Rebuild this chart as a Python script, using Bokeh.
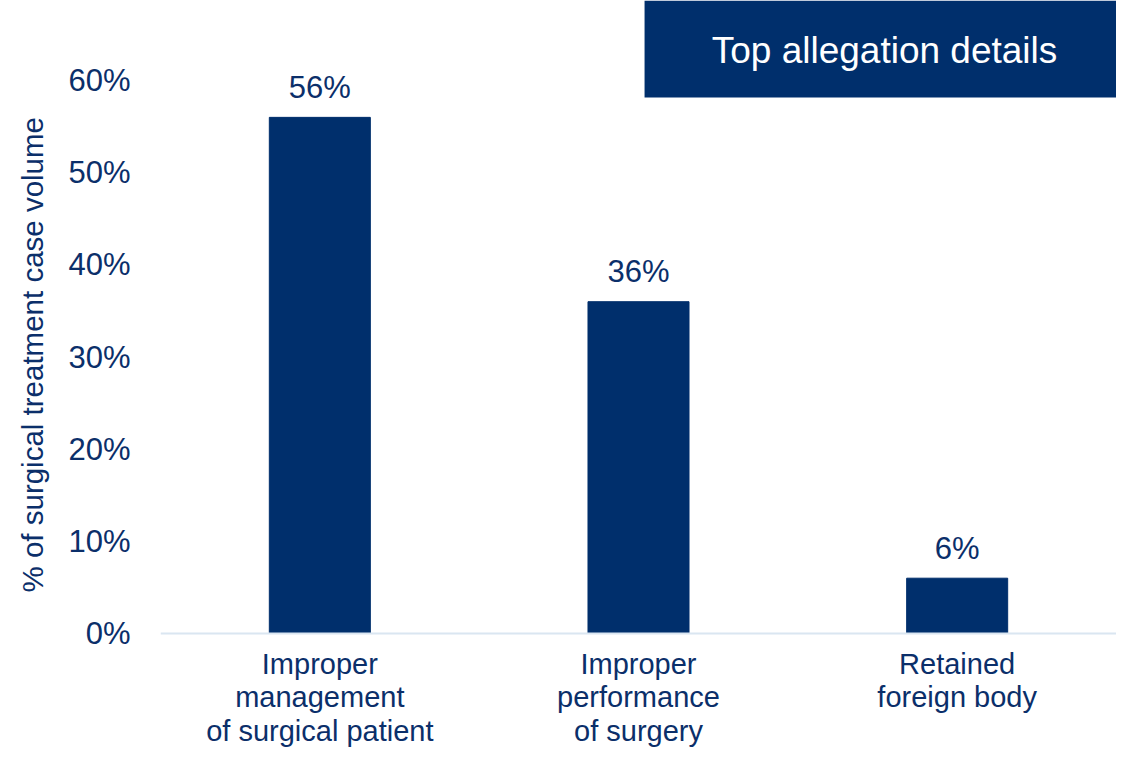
from bokeh.plotting import figure
from bokeh.models import (FactorRange, Range1d, FixedTicker, PrintfTickFormatter,
                          ColumnDataSource, Span, Title)
from bokeh.core.properties import value
from bokeh.embed import file_html
from bokeh.resources import INLINE

categories = ["Improper\nmanagement\nof surgical patient",
              "Improper\nperformance\nof surgery",
              "Retained\nforeign body"]
values = [56, 36, 6]
labels = ["56%", "36%", "6%"]
y_ticks = [0, 10, 20, 30, 40, 50, 60]
title_text = "Top allegation details"
y_label = "% of surgical treatment case volume"

NAVY = "#002F6C"
TEXT = "#0B2F6A"
FONT = "Liberation Sans"

W, H = 1116, 748
p = figure(width=W, height=H, output_backend="svg", toolbar_location=None,
           x_range=FactorRange(*categories, range_padding=0, factor_padding=0),
           y_range=Range1d(-12.477, 68.68))
p.min_border_left = 160
p.min_border_right = 0
p.min_border_top = 0
p.min_border_bottom = 0
p.outline_line_color = None
p.grid.grid_line_color = None
p.background_fill_color = "white"
p.border_fill_color = "white"
p.xaxis.visible = False

src = ColumnDataSource(dict(cat=categories, val=values, lab=labels, zero=[0] * len(values)))

# baseline axis line
p.add_layout(Span(location=0, dimension="width", line_color="#DAE6F1", line_width=2))

p.vbar(x="cat", top="val", width=0.317, source=src, fill_color=NAVY, line_color=NAVY)
p.text(x="cat", y="val", text="lab", source=src, text_align="center",
       text_baseline="alphabetic", y_offset=-30, text_font=value(FONT),
       text_font_size="31px", text_color=TEXT)

# category labels under the baseline
p.text(x="cat", y="zero", text="cat", source=src, text_align="center",
       text_baseline="top", y_offset=14, text_font=value(FONT),
       text_font_size="29px", text_line_height=1.062, text_color=TEXT)

# title box (decoration)
p.quad(left=[1.519], right=[3.0], bottom=[58.156], top=[68.68], fill_color=NAVY, line_color=None)
p.text(x=[2.272], y=[63.255], text=[title_text], text_align="center", text_baseline="middle",
       text_font=value(FONT), text_font_size="37px", text_color="white")

ya = p.yaxis[0]
ya.ticker = FixedTicker(ticks=y_ticks)
ya.formatter = PrintfTickFormatter(format="%d%%")
ya.axis_line_color = None
ya.major_tick_line_color = None
ya.minor_tick_line_color = None
ya.major_label_standoff = 24
ya.major_label_text_font = FONT
ya.major_label_text_font_size = "31px"
ya.major_label_text_color = TEXT

# y axis title as a side title (rotated)
p.add_layout(Title(text=y_label, align="left", offset=156, standoff=29, vertical_align="top",
                   text_font=FONT, text_font_size="29.5px", text_font_style="normal",
                   text_color=TEXT), "left")

open("out.html", "w").write(file_html(p, INLINE))
